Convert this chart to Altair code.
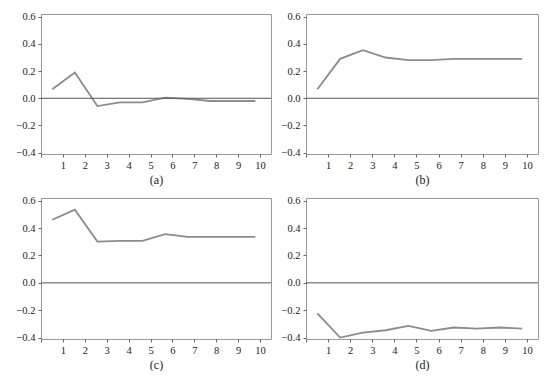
import altair as alt
import pandas as pd

periods = list(range(1, 11))
resp_a = [0.067, 0.19, -0.057, -0.03, -0.03, 0.005, -0.005, -0.02, -0.02, -0.02]
resp_b = [0.066, 0.29, 0.354, 0.30, 0.28, 0.28, 0.29, 0.29, 0.29, 0.29]
resp_c = [0.461, 0.535, 0.302, 0.307, 0.307, 0.356, 0.336, 0.336, 0.336, 0.336]
resp_d = [-0.223, -0.40, -0.363, -0.346, -0.314, -0.351, -0.326, -0.334, -0.326, -0.334]
captions = ["(a)", "(b)", "(c)", "(d)"]
y_ticks = [-0.4, -0.2, 0.0, 0.2, 0.4, 0.6]
x_ticks = [0] + periods

FONT = "Liberation Serif"
yscale = alt.Scale(domain=[-0.41, 0.62], nice=False, zero=False)
yaxis = alt.Axis(values=y_ticks, format=".1f", title=None, grid=False,
                 minExtent=32, maxExtent=32)


def panel(vals, cap, w, h):
    df = pd.DataFrame({"period": periods, "value": vals})
    x = alt.X(
        "pos:Q",
        scale=alt.Scale(domain=[0, 10.5], nice=False, zero=False),
        axis=alt.Axis(values=x_ticks, format="d", title=cap, grid=False,
                      labelExpr="datum.value == 0 ? '' : datum.label"),
    )
    line = (
        alt.Chart(df)
        .transform_calculate(pos="(datum.period - 0.5) * 1.03")
        .mark_line(color="#8c8c8c", strokeWidth=1.8)
        .encode(x=x, y=alt.Y("value:Q", scale=yscale, axis=yaxis))
    )
    zero = (
        alt.Chart(pd.DataFrame({"z": [0.0]}))
        .mark_rule(color="#555555", strokeWidth=1)
        .encode(y=alt.Y("z:Q", scale=yscale, axis=yaxis))
    )
    return alt.layer(line, zero).properties(width=w, height=h)


pa = panel(resp_a, captions[0], 230, 140)
pb = panel(resp_b, captions[1], 232, 140)
pc = panel(resp_c, captions[2], 230, 141)
pd_ = panel(resp_d, captions[3], 232, 141)

chart = (
    alt.vconcat(
        alt.hconcat(pa, pb, spacing=1),
        alt.hconcat(pc, pd_, spacing=1),
        spacing=9,
    )
    .properties(padding={"left": 0, "top": 3, "right": 0, "bottom": 0},
                background="white")
    .configure_view(stroke="#999999", strokeWidth=1)
    .configure_axis(
        domain=False,
        grid=False,
        tickColor="#666666",
        tickSize=3,
        labelFont=FONT,
        labelFontSize=10.5,
        labelColor="#222222",
        labelPadding=3,
        titleFont=FONT,
        titleFontSize=12,
        titleFontWeight="normal",
        titleColor="#222222",
        titlePadding=4,
    )
)

chart.save("out.html", embed_options={"renderer": "svg", "actions": False})
